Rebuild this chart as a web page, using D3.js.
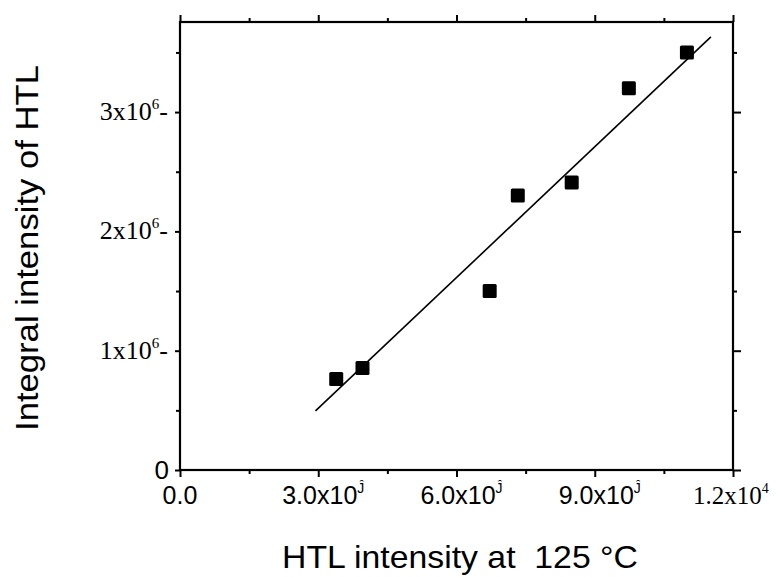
<!DOCTYPE html>
<html>
<head>
<meta charset="utf-8">
<script src="https://cdn.jsdelivr.net/npm/d3@7"></script>
<style>
  body { margin: 0; background: #fff; }
  svg { display: block; }
</style>
</head>
<body>
<svg id="root" width="781" height="577"></svg>
<script>
// HTL intensity at 125 °C vs integral intensity of HTL
const htlIntensity = [3390, 3960, 6720, 7330, 8500, 9740, 11000];
const integralIntensity = [0.763e6, 0.855e6, 1.50e6, 2.30e6, 2.41e6, 3.20e6, 3.50e6];

// fitted line end points
const fitX = [2940, 11520];
const fitY = [0.495e6, 3.63e6];

const xMajor = [0, 3000, 6000, 9000, 12000];
const xMinor = [1500, 4500, 7500, 10500];
const xTickText = ["0.0", "3.0x10", "6.0x10", "9.0x10", "1.2x10"];
const xTickSup = ["", "\u0134", "\u0134", "\u0134", "4"];

const yMajor = [0, 1e6, 2e6, 3e6];
const yMinor = [0.5e6, 1.5e6, 2.5e6, 3.5e6];
const yTickText = ["0", "1x10", "2x10", "3x10"];
const yTickSup = ["", "6", "6", "6"];

const main = () => {
    const svg = d3.select("#root");

    const margin = { top: 22, left: 180, bottom: 107, right: 48 };
    const width = 781, height = 577;

    const x = d3.scaleLinear()
        .domain([0, 12000])
        .range([margin.left, width - margin.right]);
    const y = d3.scaleLinear()
        .domain([0, 3.755e6])
        .range([height - margin.bottom, margin.top]);

    const x0 = x(0), x1 = x(12000), y0 = y(0), y1 = margin.top;

    // frame
    svg.append("rect")
        .attr("x", x0).attr("y", y1)
        .attr("width", x1 - x0).attr("height", y0 - y1)
        .attr("fill", "none").attr("stroke", "#000").attr("stroke-width", 2.2);

    const ticks = (axis, tx, ty) => svg.append("g")
        .attr("transform", `translate(${tx},${ty})`)
        .call(axis)
        .call(g => g.select(".domain").remove())
        .call(g => g.selectAll("line").attr("stroke-width", 2));

    // bottom / top
    ticks(d3.axisBottom(x).tickValues(xMajor).tickSize(7).tickFormat(""), 0, y0);
    ticks(d3.axisBottom(x).tickValues(xMinor).tickSize(4).tickFormat(""), 0, y0);
    ticks(d3.axisTop(x).tickValues(xMajor).tickSize(7).tickFormat(""), 0, y1);
    ticks(d3.axisTop(x).tickValues(xMinor).tickSize(4).tickFormat(""), 0, y1);
    // left / right
    ticks(d3.axisLeft(y).tickValues(yMajor).tickSize(5).tickFormat(""), x0, 0);
    ticks(d3.axisLeft(y).tickValues(yMinor).tickSize(4).tickFormat(""), x0, 0);
    ticks(d3.axisRight(y).tickValues(yMajor).tickSize(8).tickFormat(""), x1, 0);
    ticks(d3.axisRight(y).tickValues(yMinor).tickSize(4).tickFormat(""), x1, 0);

    // x tick labels
    xMajor.forEach((v, i) => {
        const serif = i === 4;
        const t = svg.append("text")
            .attr("x", serif ? 693 : x(v) + (i === 0 ? 0 : 5))
            .attr("y", y0 + 34)
            .attr("text-anchor", serif ? "start" : "middle")
            .attr("font-family", serif ? "Liberation Serif, Times New Roman, serif" : "Liberation Sans, Arial, sans-serif")
            .attr("font-size", 25)
            .text(xTickText[i]);
        if (xTickSup[i]) {
            t.append("tspan")
                .attr("dy", -11)
                .attr("font-size", 14)
                .text(xTickSup[i]);
        }
    });

    // y tick labels
    yMajor.forEach((v, i) => {
        if (i === 0) {
            svg.append("text")
                .attr("x", x0 - 11).attr("y", y(v) + 9)
                .attr("text-anchor", "end")
                .attr("font-family", "Liberation Sans, Arial, sans-serif")
                .attr("font-size", 26)
                .text(yTickText[i]);
            return;
        }
        const t = svg.append("text")
            .attr("x", x0 - 12).attr("y", y(v) + 8)
            .attr("text-anchor", "end")
            .attr("font-family", "Liberation Serif, Times New Roman, serif")
            .attr("font-size", 26)
            .text(yTickText[i]);
        t.append("tspan").attr("dy", -11).attr("font-size", 15).text(yTickSup[i]);
        t.append("tspan").attr("dy", 11).text("-");
    });

    // fit line
    svg.append("line")
        .attr("x1", x(fitX[0])).attr("y1", y(fitY[0]))
        .attr("x2", x(fitX[1])).attr("y2", y(fitY[1]))
        .attr("stroke", "#000").attr("stroke-width", 1.6);

    // square markers
    const s = 14;
    svg.selectAll("rect.pt")
        .data(htlIntensity.map((d, i) => [d, integralIntensity[i]]))
        .join("rect")
        .attr("class", "pt")
        .attr("x", d => x(d[0]) - s / 2)
        .attr("y", d => y(d[1]) - s / 2)
        .attr("width", s).attr("height", s)
        .attr("rx", 1.5)
        .attr("fill", "#000");

    // axis titles
    svg.append("text")
        .attr("x", 460)
        .attr("y", 568)
        .attr("text-anchor", "middle")
        .attr("font-family", "Liberation Sans, Arial, sans-serif")
        .attr("font-size", 32)
        .attr("textLength", 356)
        .attr("lengthAdjust", "spacingAndGlyphs")
        .style("white-space", "pre")
        .text("HTL intensity at  125 \u00B0C");

    svg.append("text")
        .attr("transform", `translate(38,${(y0 + y1) / 2 + 2}) rotate(-90)`)
        .attr("text-anchor", "middle")
        .attr("font-family", "Liberation Sans, Arial, sans-serif")
        .attr("font-size", 32)
        .attr("textLength", 366)
        .attr("lengthAdjust", "spacingAndGlyphs")
        .text("Integral intensity of HTL");
};

main();
</script>
</body>
</html>
